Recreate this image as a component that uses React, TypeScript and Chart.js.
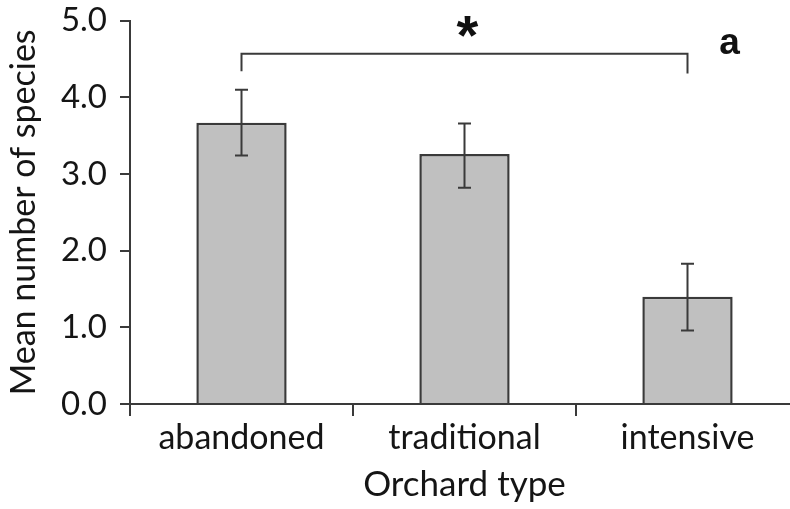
import React, { useEffect, useRef } from 'react';
import { Chart, registerables } from 'chart.js';

Chart.register(...registerables);

const categories = ['abandoned', 'traditional', 'intensive'];
const means = [3.67, 3.26, 1.4];
const errLow = [3.24, 2.82, 0.96];
const errHigh = [4.1, 3.66, 1.83];
const yTickValues = [0, 1, 2, 3, 4, 5];
const bracketFrom = 0;
const bracketTo = 2;
const bracketTop = 4.57;
const bracketLegEnds = [4.34, 4.31];
const sigLabel = '*';
const panelLabel = 'a';
const yTitle = 'Mean number of species';
const xTitle = 'Orchard type';

const INK = '#151515';
const LINE = '#3a3a3a';

const overlay = {
  id: 'overlay',
  afterDatasetsDraw(chart: any) {
    const ctx = chart.ctx;
    const xs = chart.scales.x;
    const ys = chart.scales.y;
    ctx.save();
    ctx.strokeStyle = LINE;
    ctx.lineWidth = 2;
    ctx.lineCap = 'butt';
    means.forEach((_, i) => {
      const cx = xs.getPixelForValue(i);
      const t = ys.getPixelForValue(errHigh[i]);
      const b = ys.getPixelForValue(errLow[i]);
      ctx.beginPath();
      ctx.moveTo(cx, t);
      ctx.lineTo(cx, b);
      ctx.moveTo(cx - 6.5, t);
      ctx.lineTo(cx + 6.5, t);
      ctx.moveTo(cx - 6.5, b);
      ctx.lineTo(cx + 6.5, b);
      ctx.stroke();
    });
    const x0 = xs.getPixelForValue(bracketFrom);
    const x1 = xs.getPixelForValue(bracketTo);
    const yt = ys.getPixelForValue(bracketTop);
    ctx.beginPath();
    ctx.moveTo(x0, ys.getPixelForValue(bracketLegEnds[0]));
    ctx.lineTo(x0, yt);
    ctx.lineTo(x1, yt);
    ctx.lineTo(x1, ys.getPixelForValue(bracketLegEnds[1]));
    ctx.stroke();

    ctx.fillStyle = '#111';
    ctx.textAlign = 'center';
    ctx.textBaseline = 'alphabetic';
    ctx.font = 'bold 56px "Liberation Sans"';
    let m = ctx.measureText(sigLabel);
    const sx = (x0 + x1) / 2 + 3;
    const sy = yt - 27;
    ctx.fillText(sigLabel, sx, sy + (m.actualBoundingBoxAscent - m.actualBoundingBoxDescent) / 2);
    ctx.font = 'bold 37px "Liberation Sans"';
    m = ctx.measureText(panelLabel);
    ctx.fillText(panelLabel, x1 + 42, yt - 10 + (m.actualBoundingBoxAscent - m.actualBoundingBoxDescent) / 2);
    ctx.restore();
  },
};

export default function App() {
  const ref = useRef<HTMLCanvasElement>(null);
  useEffect(() => {
    document.body.style.margin = '0';
    const canvas = ref.current!;
    const chart = new Chart(canvas, {
      type: 'bar',
      data: {
        labels: categories,
        datasets: [
          {
            data: means,
            backgroundColor: '#c0c0c0',
            borderColor: LINE,
            borderWidth: 2.5,
            borderSkipped: 'bottom',
            categoryPercentage: 1,
            barPercentage: 0.405,
          },
        ],
      },
      options: {
        responsive: false,
        animation: false,
        devicePixelRatio: 1,
        layout: { padding: { top: 20.7, left: 0, right: 0, bottom: 0 } },
        plugins: { legend: { display: false }, tooltip: { enabled: false } },
        scales: {
          x: {
            offset: true,
            grid: { display: true, drawOnChartArea: false, drawTicks: true, tickLength: 12, color: LINE, lineWidth: 2, offset: true },
            border: { display: true, color: LINE, width: 2 },
            ticks: { color: INK, padding: 2, font: { family: 'Lato', size: 34 } },
            title: { display: true, text: xTitle, color: INK, font: { family: 'Lato', size: 35 }, padding: { top: 0, bottom: 3 } },
            afterFit: (s: any) => { s.height = 105; },
          },
          y: {
            min: 0,
            max: 5,
            afterBuildTicks: (s: any) => { s.ticks = yTickValues.map((v) => ({ value: v })); },
            grid: { display: true, drawOnChartArea: false, drawTicks: true, tickLength: 10, color: LINE, lineWidth: 2 },
            border: { display: true, color: LINE, width: 2 },
            ticks: { color: INK, padding: 13, font: { family: 'Lato', size: 33 }, callback: (v: any) => Number(v).toFixed(1) },
            title: { display: true, text: yTitle, color: INK, font: { family: 'Lato', size: 34 }, padding: { top: 4, bottom: 0 } },
            afterFit: (s: any) => { s.width = 130; s.paddingTop = 0; s.paddingBottom = 0; },
          },
        },
      },
      plugins: [overlay],
    });
    return () => chart.destroy();
  }, []);
  return (
    <div style={{ width: 790, height: 509, overflow: 'hidden', position: 'relative', background: '#fff' }}>
      <canvas ref={ref} width={799} height={509} style={{ display: 'block' }} />
    </div>
  );
}
